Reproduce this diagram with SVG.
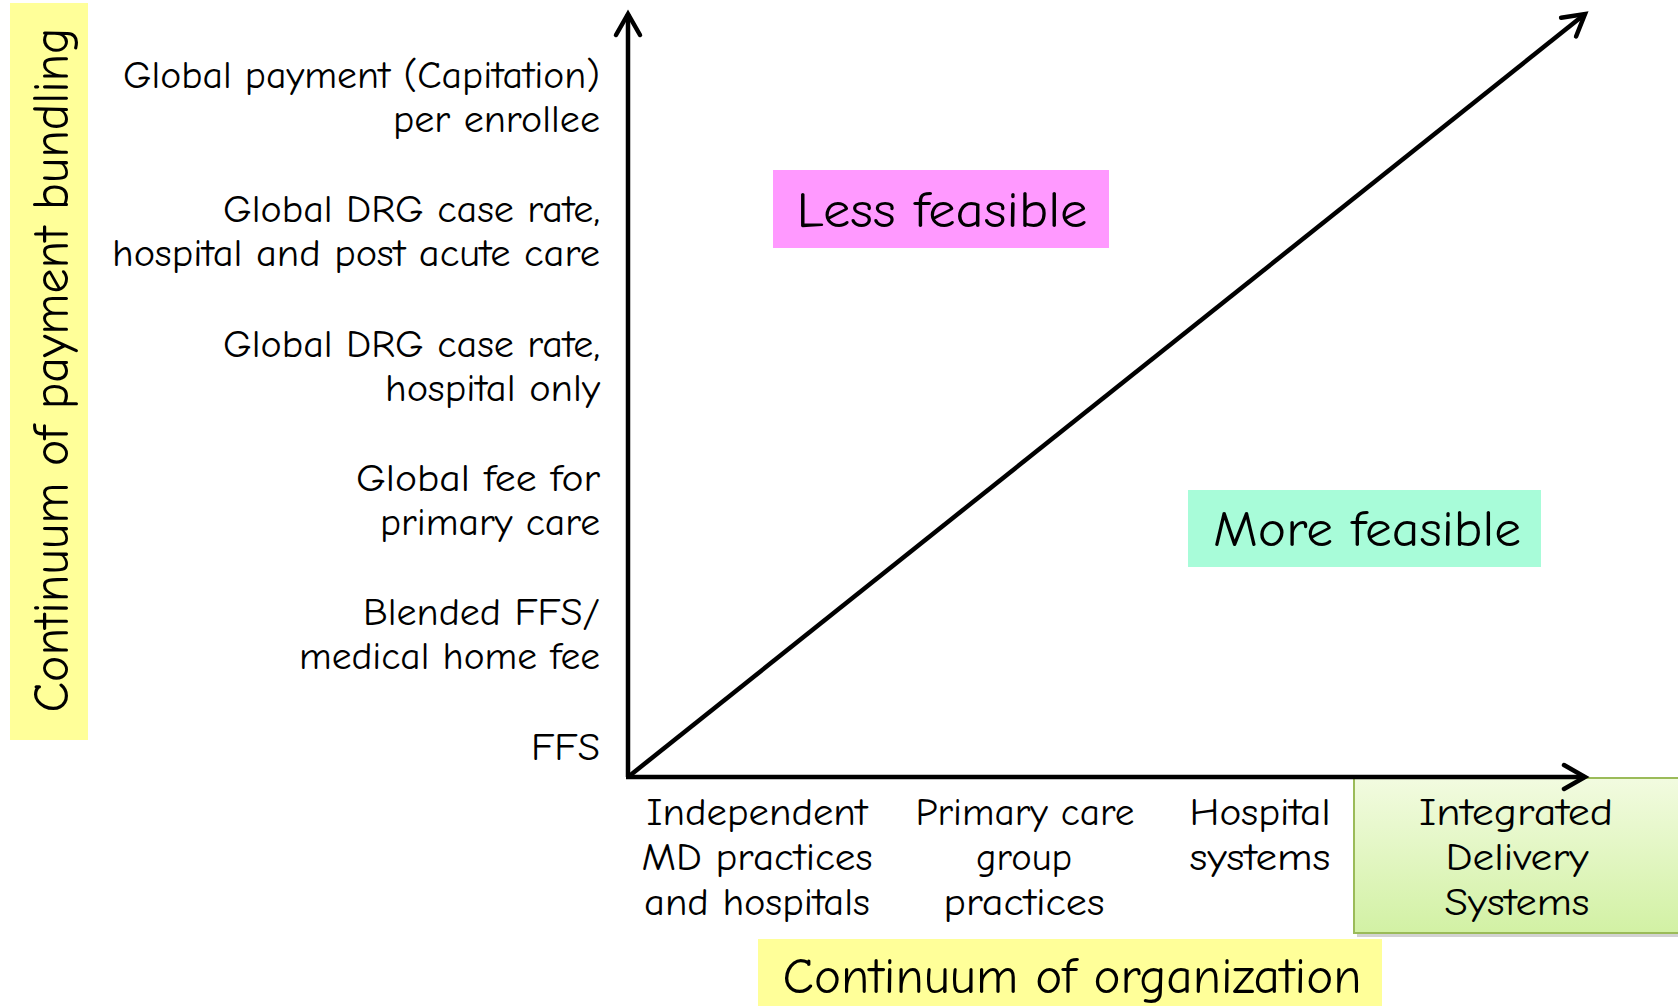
<svg xmlns="http://www.w3.org/2000/svg" width="1678" height="1006" viewBox="0 0 1678 1006">
  <style>
    text { font-family: "Comic Sans MS", "Comic Neue", "Open Sans", "Liberation Sans", sans-serif; fill: #000; }
    .lbl { font-size: 38px; text-anchor: end; }
    .org { font-size: 38px; text-anchor: middle; }
    .big { font-size: 50px; text-anchor: middle; }
    .axis { stroke: #000; stroke-width: 4.5; fill: none; }
  </style>
  <defs>
    <marker id="chev" markerUnits="userSpaceOnUse" viewBox="-30 -20 40 40" refX="0" refY="0" markerWidth="40" markerHeight="40" orient="auto" overflow="visible">
      <path d="M -21 -12 L 0 0 L -21 12" fill="none" stroke="#000" stroke-width="4.5" stroke-linecap="round" stroke-linejoin="miter"/>
    </marker>
    <linearGradient id="greenFill" x1="0" y1="0" x2="0" y2="1">
      <stop offset="0" stop-color="#f2fbe0"/>
      <stop offset="1" stop-color="#d2f1a4"/>
    </linearGradient>
  </defs>

  <rect width="1678" height="1006" fill="#fff"/>

  <!-- vertical axis title -->
  <g id="y-title">
    <rect x="10" y="3" width="78" height="737" fill="#ffff99"/>
    <text class="big" transform="translate(68,370) rotate(-90)" textLength="685" lengthAdjust="spacingAndGlyphs">Continuum of payment bundling</text>
  </g>

  <!-- payment levels -->
  <g id="pay-capitation">
    <text class="lbl" x="600" y="88" textLength="477" lengthAdjust="spacingAndGlyphs">Global payment (Capitation)</text>
    <text class="lbl" x="600" y="132" textLength="207" lengthAdjust="spacingAndGlyphs">per enrollee</text>
  </g>
  <g id="pay-drg-post-acute">
    <text class="lbl" x="600" y="222" textLength="377" lengthAdjust="spacingAndGlyphs">Global DRG case rate,</text>
    <text class="lbl" x="600" y="266" textLength="488" lengthAdjust="spacingAndGlyphs">hospital and post acute care</text>
  </g>
  <g id="pay-drg-hospital">
    <text class="lbl" x="600" y="357" textLength="377" lengthAdjust="spacingAndGlyphs">Global DRG case rate,</text>
    <text class="lbl" x="600" y="401" textLength="215" lengthAdjust="spacingAndGlyphs">hospital only</text>
  </g>
  <g id="pay-primary">
    <text class="lbl" x="600" y="491" textLength="244" lengthAdjust="spacingAndGlyphs">Global fee for</text>
    <text class="lbl" x="600" y="535" textLength="220" lengthAdjust="spacingAndGlyphs">primary care</text>
  </g>
  <g id="pay-blended">
    <text class="lbl" x="600" y="625" textLength="237" lengthAdjust="spacingAndGlyphs">Blended FFS/</text>
    <text class="lbl" x="600" y="669" textLength="301" lengthAdjust="spacingAndGlyphs">medical home fee</text>
  </g>
  <g id="pay-ffs">
    <text class="lbl" x="600" y="760" textLength="69" lengthAdjust="spacingAndGlyphs">FFS</text>
  </g>

  <!-- integrated delivery systems highlight -->
  <g id="org-integrated">
    <rect x="1357" y="782" width="330" height="155" fill="#bfbfbf" opacity="0.7"/>
    <rect x="1354" y="778" width="330" height="155" fill="url(#greenFill)" stroke="#9bbb59" stroke-width="2"/>
    <text class="org" x="1516" y="825" textLength="194" lengthAdjust="spacingAndGlyphs">Integrated</text>
    <text class="org" x="1517" y="870" textLength="143" lengthAdjust="spacingAndGlyphs">Delivery</text>
    <text class="org" x="1517" y="915" textLength="145" lengthAdjust="spacingAndGlyphs">Systems</text>
  </g>

  <!-- organization levels -->
  <g id="org-independent">
    <text class="org" x="757" y="825" textLength="221" lengthAdjust="spacingAndGlyphs">Independent</text>
    <text class="org" x="757" y="870" textLength="231" lengthAdjust="spacingAndGlyphs">MD practices</text>
    <text class="org" x="757" y="915" textLength="226" lengthAdjust="spacingAndGlyphs">and hospitals</text>
  </g>
  <g id="org-primary">
    <text class="org" x="1025" y="825" textLength="219" lengthAdjust="spacingAndGlyphs">Primary care</text>
    <text class="org" x="1024" y="870" textLength="96" lengthAdjust="spacingAndGlyphs">group</text>
    <text class="org" x="1024" y="915" textLength="161" lengthAdjust="spacingAndGlyphs">practices</text>
  </g>
  <g id="org-hospital">
    <text class="org" x="1260" y="825" textLength="141" lengthAdjust="spacingAndGlyphs">Hospital</text>
    <text class="org" x="1260" y="870" textLength="141" lengthAdjust="spacingAndGlyphs">systems</text>
  </g>

  <!-- horizontal axis title -->
  <g id="x-title">
    <rect x="758" y="939" width="624" height="67" fill="#ffff99"/>
    <text class="big" x="1072" y="993" textLength="579" lengthAdjust="spacingAndGlyphs">Continuum of organization</text>
  </g>

  <!-- feasibility regions -->
  <g id="less-feasible">
    <rect x="773" y="170" width="336" height="78" fill="#ff99ff"/>
    <text class="big" x="942" y="227" textLength="291" lengthAdjust="spacingAndGlyphs">Less feasible</text>
  </g>
  <g id="more-feasible">
    <rect x="1188" y="490" width="353" height="77" fill="#a8fcd9"/>
    <text class="big" x="1367" y="546" textLength="308" lengthAdjust="spacingAndGlyphs">More feasible</text>
  </g>

  <!-- axes and diagonal -->
  <g id="connectors">
    <line class="axis" x1="628" y1="777" x2="628" y2="14" marker-end="url(#chev)"/>
    <line class="axis" x1="626" y1="777" x2="1585" y2="777" marker-end="url(#chev)"/>
    <line class="axis" x1="628" y1="777" x2="1585" y2="14" marker-end="url(#chev)"/>
  </g>
</svg>
